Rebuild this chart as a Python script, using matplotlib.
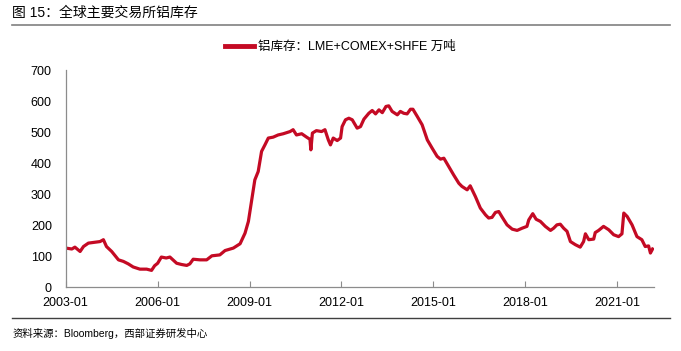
import matplotlib
matplotlib.use('Agg')
import matplotlib.pyplot as plt
import pandas as pd

plt.rcParams['font.family'] = ['Liberation Sans', 'Noto Sans CJK SC', 'DejaVu Sans']

# Aluminium stocks, LME+COMEX+SHFE (10k tonnes) (decimal years)
years = [
    2003.00, 2003.20, 2003.30, 2003.47, 2003.58, 2003.74, 2003.90, 2004.12, 2004.23,
    2004.33, 2004.50, 2004.72, 2004.88, 2005.04, 2005.20, 2005.42, 2005.64, 2005.80,
    2005.90, 2006.00, 2006.12, 2006.28, 2006.40, 2006.62, 2006.78, 2006.95, 2007.05,
    2007.16, 2007.38, 2007.60, 2007.77, 2008.03, 2008.20, 2008.47, 2008.69, 2008.85,
    2008.96, 2009.07, 2009.17, 2009.28, 2009.39, 2009.50, 2009.61, 2009.77, 2009.93,
    2010.10, 2010.32, 2010.42, 2010.53, 2010.70, 2010.86, 2010.97, 2011.00, 2011.05,
    2011.18, 2011.35, 2011.46, 2011.57, 2011.64, 2011.73, 2011.86, 2011.97, 2012.02,
    2012.13, 2012.24, 2012.35, 2012.51, 2012.62, 2012.73, 2012.89, 2013.00, 2013.11,
    2013.22, 2013.33, 2013.45, 2013.54, 2013.65, 2013.82, 2013.92, 2014.03, 2014.14,
    2014.25, 2014.33, 2014.47, 2014.63, 2014.80, 2014.96, 2015.12, 2015.23, 2015.34,
    2015.50, 2015.66, 2015.83, 2015.93, 2016.10, 2016.20, 2016.37, 2016.53, 2016.70,
    2016.80, 2016.91, 2017.02, 2017.13, 2017.24, 2017.40, 2017.57, 2017.73, 2017.89,
    2018.05, 2018.11, 2018.24, 2018.35, 2018.49, 2018.65, 2018.82, 2018.92, 2019.03,
    2019.14, 2019.25, 2019.36, 2019.47, 2019.63, 2019.79, 2019.90, 2019.96, 2020.07,
    2020.23, 2020.28, 2020.39, 2020.55, 2020.72, 2020.88, 2021.04, 2021.15, 2021.21,
    2021.32, 2021.48, 2021.64, 2021.80, 2021.91, 2022.02, 2022.08, 2022.15,
]
stocks = [
    126, 123, 129, 115, 131, 142, 144, 147, 153,
    131, 115, 88, 83, 75, 65, 58, 58, 54,
    69, 77, 97, 94, 97, 77, 73, 70, 75,
    90, 88, 88, 101, 104, 118, 126, 140, 174,
    212, 282, 346, 373, 438, 459, 481, 484, 491,
    495, 502, 508, 491, 495, 484, 477, 443, 497,
    505, 502, 508, 475, 459, 481, 473, 481, 518,
    540, 545, 540, 513, 518, 542, 561, 570, 559,
    572, 563, 583, 585, 567, 556, 567, 561, 559,
    574, 574, 551, 524, 475, 448, 422, 413, 416,
    389, 362, 335, 325, 314, 327, 292, 255, 233,
    223, 225, 241, 244, 226, 201, 187, 183, 190,
    196, 217, 237, 219, 212, 196, 183, 190, 201,
    203, 190, 180, 147, 137, 129, 147, 172, 153,
    155, 176, 183, 196, 185, 169, 163, 172, 239,
    228, 201, 163, 153, 131, 133, 110, 123,
]
tick_years = [2003, 2006, 2009, 2012, 2015, 2018, 2021]
y_ticks = [0, 100, 200, 300, 400, 500, 600, 700]

title = '图 15：全球主要交易所铝库存'
legend_label = '铝库存：LME+COMEX+SHFE 万吨'
source = '资料来源：Bloomberg，西部证券研发中心'


def to_date(y):
    yr = int(y)
    start = pd.Timestamp(yr, 1, 1)
    return start + (pd.Timestamp(yr + 1, 1, 1) - start) * (y - yr)


dates = [to_date(y) for y in years]
tick_dates = [pd.Timestamp(y, 1, 1) for y in tick_years]

fig = plt.figure(figsize=(6.81, 3.51), dpi=100)
ax = fig.add_axes([0.0965, 0.182, 0.864, 0.618])

line, = ax.plot(dates, stocks, color='#C40A24', lw=2.3, solid_joinstyle='round',
                label=legend_label)

ax.set_xlim(pd.Timestamp(2003, 1, 1), to_date(2022.2))
ax.set_ylim(0, 700)
ax.set_xticks(tick_dates)
ax.set_xticklabels([f'{y}-01' for y in tick_years])
ax.set_yticks(y_ticks)

for s in ['top', 'right']:
    ax.spines[s].set_visible(False)
for s in ['left', 'bottom']:
    ax.spines[s].set_color('#8c8c8c')
    ax.spines[s].set_linewidth(0.9)
ax.tick_params(axis='x', direction='in', length=4, color='#8c8c8c', labelsize=9, pad=7)
ax.tick_params(axis='y', length=0, labelsize=9, pad=10)

leg = fig.legend(handles=[line], loc='center', bbox_to_anchor=(0.5, 0.866),
                 frameon=False, handlelength=2.3, handletextpad=0.3,
                 prop={'family': ['Liberation Sans', 'Noto Sans CJK SC'], 'size': 9})
for lh in leg.get_lines():
    lh.set_linewidth(3.5)

# header, rules and source note
fig.text(0.018, 0.965, title, fontsize=10, va='center', ha='left',
         family=['Liberation Sans', 'Noto Sans CJK SC'])
fig.add_artist(plt.Line2D([0.018, 0.984], [0.929, 0.929], color='#808080', lw=1.2))
fig.add_artist(plt.Line2D([0.018, 0.984], [0.094, 0.094], color='#404040', lw=1.0))
fig.text(0.018, 0.051, source, fontsize=7.5, va='center', ha='left',
         family=['Liberation Sans', 'Noto Sans CJK SC'])

fig.savefig('out.png', dpi=100)
